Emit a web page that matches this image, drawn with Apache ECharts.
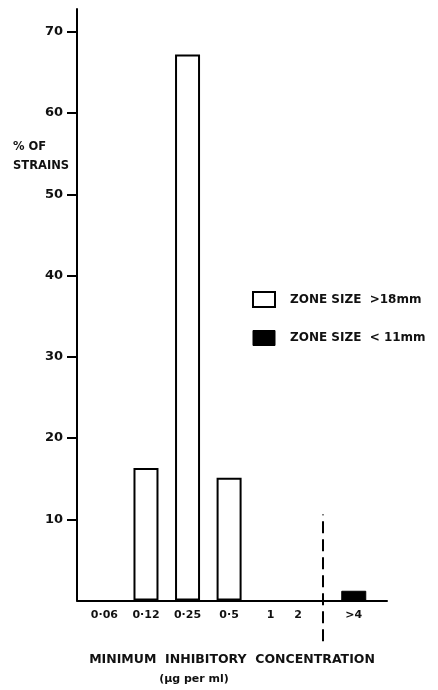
<!DOCTYPE html>
<html>
<head>
<meta charset="utf-8">
<script src="https://cdn.jsdelivr.net/npm/echarts@6/dist/echarts.min.js"></script>
<style>
  html, body { margin: 0; padding: 0; background: #fff; }
  #main { width: 438px; height: 690px; }
</style>
</head>
<body>
<div id="main"></div>
<script>
// MIC categories (µg per ml)
var categories = ["0·06", "0·12", "0·25", "0·5", "1", "2", ">4"];
// % of strains, zone size >18mm (open bars)
var zoneLarge = [null, 16.3, 67.2, 15.1, null, null, null];
// % of strains, zone size <11mm (black bars)
var zoneSmall = [null, null, null, null, null, null, 1.2];
var yTicks = [10, 20, 30, 40, 50, 60, 70];
// break line between "2" and ">4"
var breakLine = [[5.26, -5], [5.26, 10.6]];

var font = "DejaVu Sans";
var myChart = echarts.init(document.getElementById("main"));

var option = {
  animation: false,
  backgroundColor: "#fff",
  grid: { left: 77, right: 51, top: 9, bottom: 84, containLabel: false },
  legend: {
    orient: "vertical",
    left: 247,
    top: 286,
    icon: "rect",
    itemWidth: 22,
    itemHeight: 15,
    itemGap: 22,
    textStyle: { fontFamily: font, fontSize: 12, fontWeight: "bold", color: "#111", padding: [0, 0, 0, 10] },
    data: [
      { name: "ZONE SIZE  >18mm", itemStyle: { color: "#fff", borderColor: "#000", borderWidth: 2 } },
      { name: "ZONE SIZE  < 11mm", itemStyle: { color: "#000", borderColor: "#000", borderWidth: 1 } }
    ]
  },
  graphic: [
    {
      type: "text",
      left: 13,
      top: 138,
      style: {
        text: "% OF\nSTRAINS",
        font: "bold 11.5px " + font,
        fill: "#111",
        lineHeight: 19
      }
    }
  ],
  xAxis: {
    type: "value",
    min: -0.66,
    max: 6.8,
    splitLine: { show: false },
    axisLine: { show: true, lineStyle: { color: "#000", width: 2 } },
    axisTick: { show: false },
    axisLabel: {
      customValues: categories.map(function (c, i) { return i; }),
      margin: 9,
      fontFamily: font,
      fontSize: 11,
      fontWeight: "bold",
      color: "#111",
      formatter: function (v) {
        var c = categories[Math.round(v)];
        return c === "2" ? "{s|" + c + "}" : c;
      },
      rich: {
        s: { fontFamily: font, fontSize: 11, fontWeight: "bold", color: "#111", padding: [0, 28, 0, 0] }
      }
    },
    name: "{a|MINIMUM  INHIBITORY  CONCENTRATION}\n{b|(µg per ml)}",
    nameLocation: "middle",
    nameGap: 48,
    nameTextStyle: {
      rich: {
        a: { fontFamily: font, fontSize: 12.5, fontWeight: "bold", color: "#111", lineHeight: 22 },
        b: { fontFamily: font, fontSize: 11, fontWeight: "bold", color: "#111", lineHeight: 18, padding: [0, 76, 0, 0] }
      }
    }
  },
  yAxis: {
    type: "value",
    min: 0,
    max: 72.8,
    splitLine: { show: false },
    axisLine: { show: true, onZero: false, lineStyle: { color: "#000", width: 2 } },
    axisTick: {
      show: true,
      inside: false,
      length: 10,
      customValues: yTicks,
      lineStyle: { color: "#000", width: 2 }
    },
    axisLabel: {
      customValues: yTicks,
      margin: 14,
      fontFamily: font,
      fontSize: 13,
      fontWeight: "bold",
      color: "#111"
    }
  },
  series: [
    {
      name: "ZONE SIZE  >18mm",
      type: "bar",
      barWidth: 25,
      barGap: "-100%",
      itemStyle: { color: "#fff", borderColor: "#000", borderWidth: 2 },
      data: zoneLarge.map(function (v, i) { return [i, v]; })
    },
    {
      name: "ZONE SIZE  < 11mm",
      type: "bar",
      barWidth: 25,
      barGap: "-100%",
      itemStyle: { color: "#000", borderColor: "#000", borderWidth: 1 },
      data: zoneSmall.map(function (v, i) { return [i, v]; })
    },
    {
      name: "break",
      type: "line",
      clip: false,
      symbol: "none",
      silent: true,
      lineStyle: { color: "#000", width: 2, type: [12, 6] },
      data: breakLine
    }
  ]
};

option && myChart.setOption(option);
</script>
</body>
</html>
